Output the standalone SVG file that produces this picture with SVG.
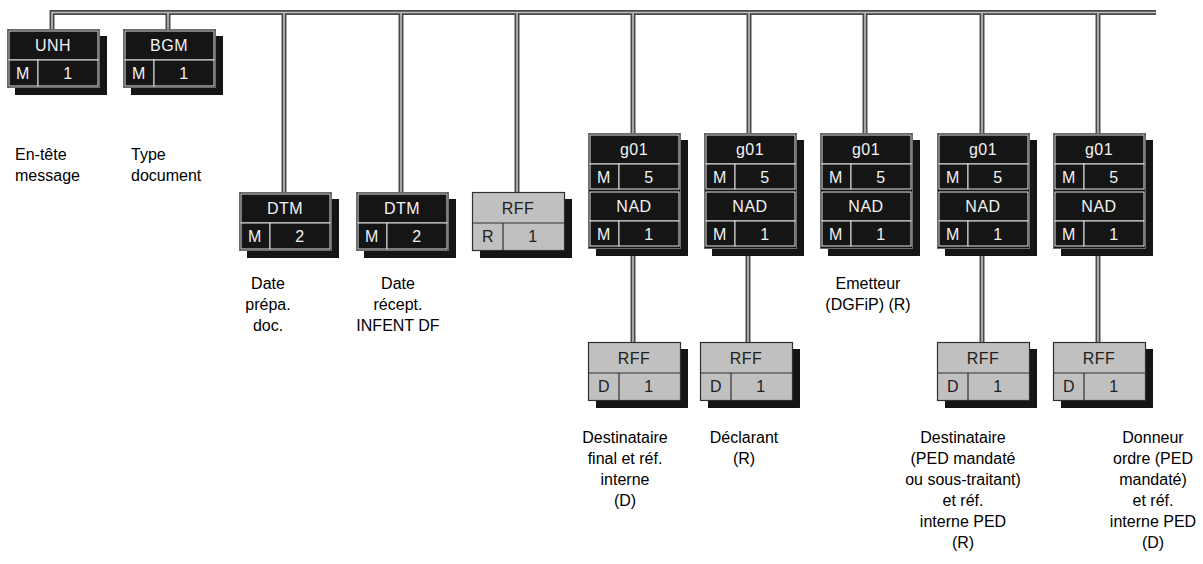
<svg xmlns="http://www.w3.org/2000/svg" width="1203" height="564" viewBox="0 0 1203 564">
<style>
.pipeo{fill:none;stroke:#4a4a4a;stroke-width:5}
.pipei{fill:none;stroke:#bdbdbd;stroke-width:1.6}
.sh{fill:#151515}
.frame{fill:#151515;stroke:#6a6a6a;stroke-width:1}
.cell{fill:#151515;stroke:#e4e4e4;stroke-width:1}
.gframe{fill:#c0c0c0;stroke:#303030;stroke-width:1.2}
.gline{stroke:#303030;stroke-width:1.2}
.bt{font-family:"Liberation Sans",Arial,sans-serif;font-size:16px;fill:#f2f2f2;text-anchor:middle;letter-spacing:0.5px}
.gt{font-family:"Liberation Sans",Arial,sans-serif;font-size:16px;fill:#202020;text-anchor:middle;letter-spacing:0.5px}
.lb{font-family:"Liberation Sans",Arial,sans-serif;font-size:16px;fill:#000;text-anchor:middle}
.ll{font-family:"Liberation Sans",Arial,sans-serif;font-size:16px;fill:#000}
</style>
<defs>
<g id="blk">
<rect class="sh" x="8" y="7" width="92" height="59"/>
<rect class="frame" x="0.5" y="0.5" width="92" height="58"/>
<rect class="cell" x="2" y="2" width="89" height="29"/>
<rect class="cell" x="2" y="31" width="29" height="26"/>
<rect class="cell" x="31" y="31" width="60" height="26"/>
</g>
<g id="grey">
<rect class="sh" x="8" y="7" width="92" height="59"/>
<rect class="gframe" x="0.5" y="0.5" width="92" height="58"/>
<line class="gline" x1="0.5" y1="31" x2="92.5" y2="31"/>
<line class="gline" x1="31" y1="31" x2="31" y2="58.5"/>
</g>
<g id="grp">
<rect class="sh" x="8" y="7" width="92" height="116"/>
<rect class="frame" x="0.5" y="0.5" width="92" height="115"/>
<rect class="cell" x="2" y="2" width="89" height="29"/>
<rect class="cell" x="2" y="31" width="29" height="25"/>
<rect class="cell" x="31" y="31" width="60" height="25"/>
<rect class="cell" x="2" y="59" width="89" height="29"/>
<rect class="cell" x="2" y="88" width="29" height="25"/>
<rect class="cell" x="31" y="88" width="60" height="25"/>
</g>
</defs>
<g id="connectors">
<path class="pipeo" d="M52,29 V12.5 H1156 M168,12.5 V29 M284,12.5 V192 M401,12.5 V192 M517,12.5 V192 M633,12.5 V133 M749,12.5 V133 M865,12.5 V133 M982,12.5 V133 M1098,12.5 V133 M633,248 V342 M748,248 V342 M982,248 V342 M1098,248 V342"/>
<path class="pipei" d="M52,29 V12.5 H1156 M168,12.5 V29 M284,12.5 V192 M401,12.5 V192 M517,12.5 V192 M633,12.5 V133 M749,12.5 V133 M865,12.5 V133 M982,12.5 V133 M1098,12.5 V133 M633,248 V342 M748,248 V342 M982,248 V342 M1098,248 V342"/>
</g>
<g id="unh" transform="translate(7,29)"><use href="#blk"/><text class="bt" x="46" y="22">UNH</text><text class="bt" x="16" y="50">M</text><text class="bt" x="61" y="50">1</text></g>
<g id="bgm" transform="translate(123,29)"><use href="#blk"/><text class="bt" x="46" y="22">BGM</text><text class="bt" x="16" y="50">M</text><text class="bt" x="61" y="50">1</text></g>
<g id="dtm1" transform="translate(239,192)"><use href="#blk"/><text class="bt" x="46" y="22">DTM</text><text class="bt" x="16" y="50">M</text><text class="bt" x="61" y="50">2</text></g>
<g id="dtm2" transform="translate(356,192)"><use href="#blk"/><text class="bt" x="46" y="22">DTM</text><text class="bt" x="16" y="50">M</text><text class="bt" x="61" y="50">2</text></g>
<g id="rff0" transform="translate(472,192)"><use href="#grey"/><text class="gt" x="46" y="22">RFF</text><text class="gt" x="16" y="50">R</text><text class="gt" x="61" y="50">1</text></g>
<g id="g01a" transform="translate(588,133)"><use href="#grp"/><text class="bt" x="46" y="22">g01</text><text class="bt" x="16" y="50">M</text><text class="bt" x="61" y="50">5</text><text class="bt" x="46" y="79">NAD</text><text class="bt" x="16" y="107">M</text><text class="bt" x="61" y="107">1</text></g>
<g id="g01b" transform="translate(704,133)"><use href="#grp"/><text class="bt" x="46" y="22">g01</text><text class="bt" x="16" y="50">M</text><text class="bt" x="61" y="50">5</text><text class="bt" x="46" y="79">NAD</text><text class="bt" x="16" y="107">M</text><text class="bt" x="61" y="107">1</text></g>
<g id="g01c" transform="translate(820,133)"><use href="#grp"/><text class="bt" x="46" y="22">g01</text><text class="bt" x="16" y="50">M</text><text class="bt" x="61" y="50">5</text><text class="bt" x="46" y="79">NAD</text><text class="bt" x="16" y="107">M</text><text class="bt" x="61" y="107">1</text></g>
<g id="g01d" transform="translate(937,133)"><use href="#grp"/><text class="bt" x="46" y="22">g01</text><text class="bt" x="16" y="50">M</text><text class="bt" x="61" y="50">5</text><text class="bt" x="46" y="79">NAD</text><text class="bt" x="16" y="107">M</text><text class="bt" x="61" y="107">1</text></g>
<g id="g01e" transform="translate(1053,133)"><use href="#grp"/><text class="bt" x="46" y="22">g01</text><text class="bt" x="16" y="50">M</text><text class="bt" x="61" y="50">5</text><text class="bt" x="46" y="79">NAD</text><text class="bt" x="16" y="107">M</text><text class="bt" x="61" y="107">1</text></g>
<g id="rff1" transform="translate(588,342)"><use href="#grey"/><text class="gt" x="46" y="22">RFF</text><text class="gt" x="16" y="50">D</text><text class="gt" x="61" y="50">1</text></g>
<g id="rff2" transform="translate(700,342)"><use href="#grey"/><text class="gt" x="46" y="22">RFF</text><text class="gt" x="16" y="50">D</text><text class="gt" x="61" y="50">1</text></g>
<g id="rff3" transform="translate(937,342)"><use href="#grey"/><text class="gt" x="46" y="22">RFF</text><text class="gt" x="16" y="50">D</text><text class="gt" x="61" y="50">1</text></g>
<g id="rff4" transform="translate(1053,342)"><use href="#grey"/><text class="gt" x="46" y="22">RFF</text><text class="gt" x="16" y="50">D</text><text class="gt" x="61" y="50">1</text></g>
<g id="labels">
<text class="ll" x="15" y="160">En-tête</text><text class="ll" x="15" y="181">message</text>
<text class="ll" x="131" y="160">Type</text><text class="ll" x="131" y="181">document</text>
<text class="lb" x="268" y="289">Date</text><text class="lb" x="268" y="310">prépa.</text><text class="lb" x="268" y="331">doc.</text>
<text class="lb" x="398" y="289">Date</text><text class="lb" x="398" y="310">récept.</text><text class="lb" x="398" y="331">INFENT DF</text>
<text class="lb" x="868" y="289">Emetteur</text><text class="lb" x="868" y="310">(DGFiP) (R)</text>
<text class="lb" x="625" y="443">Destinataire</text><text class="lb" x="625" y="464">final et réf.</text><text class="lb" x="625" y="485">interne</text><text class="lb" x="625" y="506">(D)</text>
<text class="lb" x="744" y="443">Déclarant</text><text class="lb" x="744" y="464">(R)</text>
<text class="lb" x="963" y="443">Destinataire</text><text class="lb" x="963" y="464">(PED mandaté</text><text class="lb" x="963" y="485">ou sous-traitant)</text><text class="lb" x="963" y="506">et réf.</text><text class="lb" x="963" y="527">interne PED</text><text class="lb" x="963" y="548">(R)</text>
<text class="lb" x="1153" y="443">Donneur</text><text class="lb" x="1153" y="464">ordre (PED</text><text class="lb" x="1153" y="485">mandaté)</text><text class="lb" x="1153" y="506">et réf.</text><text class="lb" x="1153" y="527">interne PED</text><text class="lb" x="1153" y="548">(D)</text>
</g>
</svg>
